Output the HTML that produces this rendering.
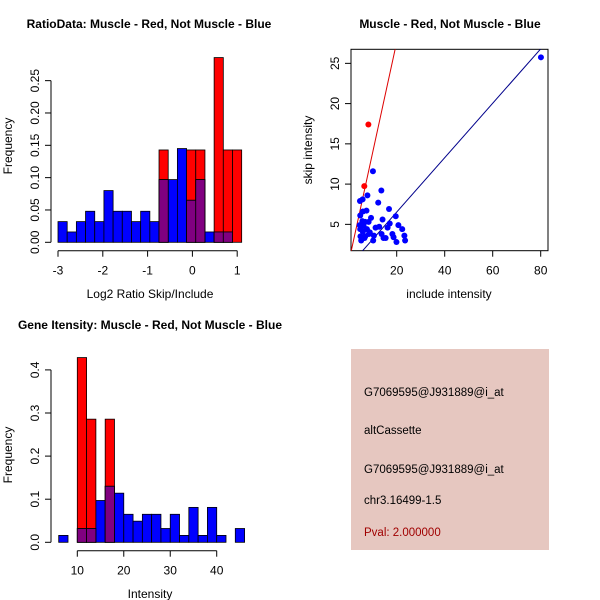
<!DOCTYPE html>
<html><head><meta charset="utf-8"><style>
body{margin:0;background:#fff;}
svg{display:block;font-family:"Liberation Sans",sans-serif;}
</style></head><body>
<svg id="s" width="600" height="600" viewBox="0 0 600 600">
<rect width="600" height="600" fill="#fff"/>
<rect x="351" y="349" width="198" height="201" fill="#e6c7c0"/>
<g font-size="11.5" fill="#000">
<text x="364" y="396">G7069595@J931889@i_at</text>
<text x="364" y="434">altCassette</text>
<text x="364" y="473">G7069595@J931889@i_at</text>
<text x="364" y="504">chr3.16499-1.5</text>
<text x="364" y="536" fill="#a00000">Pval: 2.000000</text>
</g>
</svg>
<script>
// ----- Ratio histogram data -----
const ratioStart=-3, ratioBinW=0.205;
const ratioBlue=[0.032,0.016,0.032,0.048,0.032,0.080,0.048,0.048,0.032,0.048,0.032,0.097,0.097,0.145,0.065,0.097,0.016,0.016,0.016,0];
const ratioRed=[0,0,0,0,0,0,0,0,0,0,0,0.1428,0,0,0.1428,0.1428,0,0.2857,0.1428,0.1428];
const ratioXTicks=[-3,-2,-1,0,1];
const ratioYTicks=[0,0.05,0.10,0.15,0.20,0.25];
const ratioYLabels=["0.00","0.05","0.10","0.15","0.20","0.25"];
// ----- Intensity histogram data -----
const intStart=6, intBinW=2;
const intBlue=[0.016,0,0.032,0.032,0.097,0.13,0.114,0.065,0.049,0.065,0.065,0.032,0.065,0.016,0.081,0.016,0.081,0.016,0,0.032];
const intRed=[0,0,0.4286,0.2857,0,0.2857,0,0,0,0,0,0,0,0,0,0,0,0,0,0];
const intXTicks=[10,20,30,40];
const intYTicks=[0,0.1,0.2,0.3,0.4];
const intYLabels=["0.0","0.1","0.2","0.3","0.4"];
// ----- Scatter data -----
const blueX=[80.1,10.1,13.6,7.8,12.3,4.7,5.8,16.8,19.6,7.4,14.1,9.3,5.9,4.8,20.7,22.3,17.1,16.2,11.2,12.7,8.8,10.5,13.7,14.5,15.4,18.2,18.7,19.9,23.2,23.5,10.2,6.9,8.3,6.2,7.6,8.4,4.9,5.2,4.8,5.9,6.9,4.6,6.6,5.7];
const blueY=[25.75,11.6,9.2,8.6,7.7,7.9,8.1,6.9,6.0,6.7,5.6,5.8,6.6,6.1,4.9,4.4,5.1,4.6,4.6,4.7,4.0,3.6,3.8,3.3,3.3,3.8,3.4,2.8,3.6,3.0,3.0,5.3,5.3,4.8,4.4,3.8,3.5,3.0,4.4,4.1,3.5,4.9,3.3,5.4];
const redX=[8.2,6.5];
const redY=[17.4,9.75];
const redLine=[0.25,1.37];   // intercept, slope
const blueLine=[-0.24,0.338];
const scXTicks=[20,40,60,80];
const scYTicks=[5,10,15,20,25];

const svg=document.getElementById('s');
const NS='http://www.w3.org/2000/svg';
function mk(tag,attrs,parent){const e=document.createElementNS(NS,tag);for(const k in attrs)e.setAttribute(k,attrs[k]);(parent||svg).appendChild(e);return e;}
function txt(x,y,s,o,parent){const e=mk('text',Object.assign({x:x,y:y,'font-size':12,'text-anchor':'middle'},o||{}),parent);e.textContent=s;return e;}

function histogram(cfg){
  const g=mk('g',{});
  
  
  const sx=v=>cfg.x0+(v-cfg.xa)*cfg.kx, sy=v=>cfg.y0-v*cfg.ky;
  function bars(arr,color,label){
    arr.forEach((v,i)=>{ if(v<=0)return;
      const a=cfg.start+i*cfg.w, b=a+cfg.w;
      const r=mk('rect',{x:sx(a),y:sy(v),width:sx(b)-sx(a),height:sy(0)-sy(v),fill:color,stroke:'#000','stroke-width':0.8},g);
      
      
    });
  }
  bars(cfg.red,'#ff0000','red');
  bars(cfg.blue,'#0000ff','blue');
  bars(cfg.red.map((v,i)=>Math.min(v,cfg.blue[i])),'#800080','overlap');
  // y axis
  const yt=cfg.yTicks;
  const ya=mk('line',{x1:cfg.yAxX,x2:cfg.yAxX,y1:sy(yt[0]),y2:sy(yt[yt.length-1]),stroke:'#000'},g);
   
  yt.forEach((t,i)=>{mk('line',{x1:cfg.yAxX-6,x2:cfg.yAxX,y1:sy(t),y2:sy(t),stroke:'#000'},g);
    const lx=cfg.yAxX-12, ly=sy(t);
    const e=txt(lx,ly,cfg.yLabels[i],{transform:`rotate(-90 ${lx} ${ly})`},g);
     });
  const xt=cfg.xTicks;
  const xa=mk('line',{x1:sx(xt[0]),x2:sx(xt[xt.length-1]),y1:cfg.xAxY,y2:cfg.xAxY,stroke:'#000'},g);
   
  xt.forEach(t=>{mk('line',{x1:sx(t),x2:sx(t),y1:cfg.xAxY,y2:cfg.xAxY+6,stroke:'#000'},g);
    const e=txt(sx(t),cfg.xAxY+24,String(t),{},g);
     });
  const t=txt(cfg.titleX,cfg.titleY,cfg.title,{'font-weight':'bold'},g);
   
  const xl=txt(cfg.xlX,cfg.xlY,cfg.xlab,{},g);
   
  const yl=txt(12,cfg.ylY,'Frequency',{transform:`rotate(-90 12 ${cfg.ylY})`},g);
   
}

histogram({name:'ratio-histogram',start:ratioStart,w:ratioBinW,blue:ratioBlue,red:ratioRed,
  x0:58,xa:-3,kx:44.8,y0:242.3,ky:646.6,yAxX:51,xAxY:250.7,
  xTicks:ratioXTicks,yTicks:ratioYTicks,yLabels:ratioYLabels,
  title:'RatioData: Muscle - Red, Not Muscle - Blue',titleX:149,titleY:28,
  xlab:'Log2 Ratio Skip/Include',xlX:150,xlY:298,ylY:146});

histogram({name:'intensity-histogram',start:intStart,w:intBinW,blue:intBlue,red:intRed,
  x0:77.3,xa:10,kx:4.647,y0:542.3,ky:431,yAxX:51,xAxY:550.7,
  xTicks:intXTicks,yTicks:intYTicks,yLabels:intYLabels,
  title:'Gene Itensity: Muscle - Red, Not Muscle - Blue',titleX:150,titleY:329,
  xlab:'Intensity',xlX:150,xlY:598,ylY:455});

// scatter
(function(){
  const g=mk('g',{});
  
  
  const L=351,R=548,T=49.3,B=250.7;
  const sx=v=>348.7+v*2.4, sy=v=>264.6-v*8.05;
  const clip=mk('clipPath',{id:'sc'},g); mk('rect',{x:L,y:T,width:R-L,height:B-T},clip);
  const box=mk('rect',{x:L,y:T,width:R-L,height:B-T,fill:'none',stroke:'#000'},g);
   
  const pts=mk('g',{'clip-path':'url(#sc)'},g);
  function line(c,color,name){const xa=-10,xb=100;
    const l=mk('line',{x1:sx(xa),y1:sy(c[0]+c[1]*xa),x2:sx(xb),y2:sy(c[0]+c[1]*xb),stroke:color},pts);
     }
  line(redLine,'#dd0000','red-fit-line');
  line(blueLine,'#00008b','blue-fit-line');
  redX.forEach((x,i)=>{const c=mk('circle',{cx:sx(x),cy:sy(redY[i]),r:3,fill:'#ff0000'},pts);
     });
  blueX.forEach((x,i)=>{const c=mk('circle',{cx:sx(x),cy:sy(blueY[i]),r:3,fill:'#0000ff'},pts);
     });
  scXTicks.forEach(t=>{mk('line',{x1:sx(t),x2:sx(t),y1:B,y2:B+6,stroke:'#000'},g);
    const e=txt(sx(t),B+24,String(t),{},g);
     });
  scYTicks.forEach(t=>{mk('line',{x1:L-6,x2:L,y1:sy(t),y2:sy(t),stroke:'#000'},g);
    const lx=L-12,ly=sy(t);
    const e=txt(lx,ly,String(t),{transform:`rotate(-90 ${lx} ${ly})`},g);
     });
  const t=txt(450,28,'Muscle - Red, Not Muscle - Blue',{'font-weight':'bold'},g);
   
  const xl=txt(449,298,'include intensity',{},g);
   
  const yl=txt(312,150,'skip intensity',{transform:'rotate(-90 312 150)'},g);
   
})();
</script>
</body></html>
